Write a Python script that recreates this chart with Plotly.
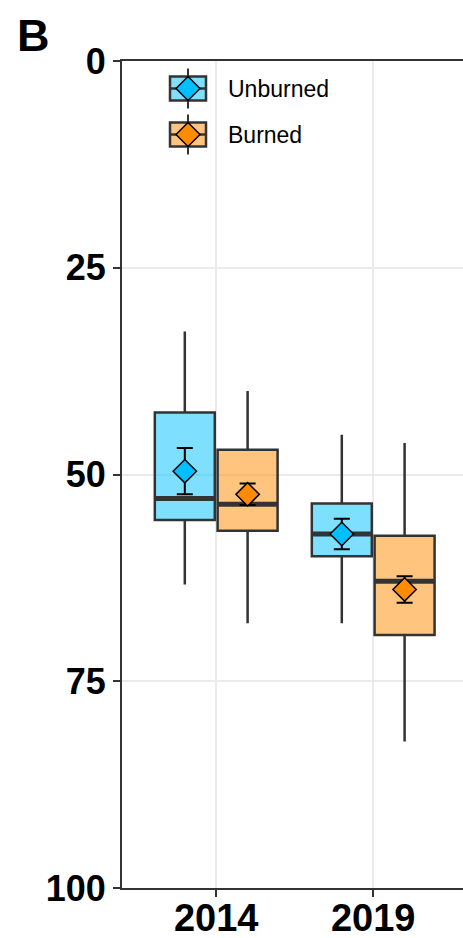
import plotly.graph_objects as go

# Depth values by survey year (box summaries, mean and standard error)
years = ["2014", "2019"]

unburned_lower = [32.7, 45.2]
unburned_q1 = [42.5, 53.5]
unburned_median = [52.9, 57.2]
unburned_q3 = [55.5, 59.9]
unburned_upper = [63.3, 68.0]
unburned_mean = [49.6, 57.2]
unburned_se = [2.8, 1.85]

burned_lower = [39.9, 46.2]
burned_q1 = [47.0, 57.4]
burned_median = [53.6, 62.9]
burned_q3 = [56.8, 69.4]
burned_upper = [68.0, 82.3]
burned_mean = [52.4, 63.9]
burned_se = [1.3, 1.6]

y_ticks = [0, 25, 50, 75, 100]

# Styling
W, H = 463, 938
ML, MT, MR, MB = 122, 61, 0, 50
FONT = "Liberation Sans, Arial, sans-serif"
EDGE = "#333333"
DODGE = 0.2
BOX_W = 0.382

groups = [
    dict(name="Unburned", fill="rgba(0,191,255,0.5)", point="#00BFFF", offset=-DODGE,
         lower=unburned_lower, q1=unburned_q1, med=unburned_median, q3=unburned_q3,
         upper=unburned_upper, mean=unburned_mean, se=unburned_se),
    dict(name="Burned", fill="rgba(255,140,0,0.5)", point="#FF8C00", offset=DODGE,
         lower=burned_lower, q1=burned_q1, med=burned_median, q3=burned_q3,
         upper=burned_upper, mean=burned_mean, se=burned_se),
]

fig = go.Figure()
idx = list(range(len(years)))

for g in groups:
    pos = [i + g["offset"] for i in idx]
    fig.add_trace(go.Box(
        x=pos, q1=g["q1"], median=g["med"], q3=g["q3"],
        lowerfence=g["lower"], upperfence=g["upper"],
        width=BOX_W, whiskerwidth=0, boxpoints=False,
        fillcolor=g["fill"], line=dict(color=EDGE, width=2.5),
        name=g["name"], showlegend=False, hoverinfo="skip",
    ))
    # thicker median bars
    for p, m in zip(pos, g["med"]):
        fig.add_trace(go.Scatter(
            x=[p - BOX_W / 2, p + BOX_W / 2], y=[m, m], mode="lines",
            line=dict(color=EDGE, width=5), showlegend=False, hoverinfo="skip",
        ))

for g in groups:
    pos = [i + g["offset"] for i in idx]
    fig.add_trace(go.Scatter(
        x=pos, y=g["mean"], mode="markers",
        marker=dict(symbol="diamond", size=18, color=g["point"],
                    line=dict(color="black", width=1.5)),
        error_y=dict(type="data", array=g["se"], color="black", thickness=2, width=8),
        showlegend=False, hoverinfo="skip",
    ))

# Legend keys drawn in pixel space, converted to paper coordinates
PW, PH = W - ML - MR, H - MT - MB


def px(x):
    return (x - ML) / PW


def py(y):
    return (H - MB - y) / PH


shapes = []
annotations = []
key_x0, key_x1 = 170, 206
key_cx = (key_x0 + key_x1) / 2
for g, cy in zip(groups, [88.5, 134.5]):
    shapes.append(dict(type="line", xref="paper", yref="paper",
                       x0=px(key_cx), x1=px(key_cx), y0=py(cy - 20), y1=py(cy + 20),
                       line=dict(color=EDGE, width=2)))
    shapes.append(dict(type="rect", xref="paper", yref="paper",
                       x0=px(key_x0), x1=px(key_x1), y0=py(cy - 12), y1=py(cy + 12),
                       fillcolor="white", line=dict(width=0)))
    shapes.append(dict(type="rect", xref="paper", yref="paper",
                       x0=px(key_x0), x1=px(key_x1), y0=py(cy - 12), y1=py(cy + 12),
                       fillcolor=g["fill"], line=dict(color=EDGE, width=2.5)))
    shapes.append(dict(type="line", xref="paper", yref="paper",
                       x0=px(key_x0), x1=px(key_x1), y0=py(cy), y1=py(cy),
                       line=dict(color=EDGE, width=2.5)))
    d = 12
    path = "M {} {} L {} {} L {} {} L {} {} Z".format(
        px(key_cx - d), py(cy), px(key_cx), py(cy - d),
        px(key_cx + d), py(cy), px(key_cx), py(cy + d))
    shapes.append(dict(type="path", xref="paper", yref="paper", path=path,
                       fillcolor=g["point"], line=dict(color="black", width=1.5)))
    annotations.append(dict(text=g["name"], xref="paper", yref="paper",
                            x=px(226), y=py(cy), xanchor="left", yanchor="middle",
                            showarrow=False, font=dict(family=FONT, size=23, color="black")))

annotations.append(dict(text="B", xref="paper", yref="paper", x=px(15), y=py(36),
                        xanchor="left", yanchor="middle", showarrow=False,
                        font=dict(family=FONT, size=45, color="black", weight="bold")))

fig.update_layout(
    width=W, height=H,
    margin=dict(l=ML, r=MR, t=MT, b=MB, pad=0, autoexpand=False),
    plot_bgcolor="white", paper_bgcolor="white",
    shapes=shapes, annotations=annotations,
    font=dict(family=FONT),
)

fig.update_xaxes(
    range=[-0.6, -0.6 + PW / 157.0],
    tickvals=idx, ticktext=years,
    showgrid=True, gridcolor="#EBEBEB", gridwidth=2,
    showline=True, linecolor=EDGE, linewidth=2, mirror=True,
    ticks="outside", ticklen=7, tickwidth=2, tickcolor=EDGE,
    ticklabelstandoff=-12,
    tickfont=dict(family=FONT, size=38, color="black", weight="bold"),
    zeroline=False, fixedrange=True, automargin=False,
)
fig.update_yaxes(
    range=[100, 0], tickvals=y_ticks,
    showgrid=True, gridcolor="#EBEBEB", gridwidth=2,
    showline=True, linecolor=EDGE, linewidth=2,
    ticks="outside", ticklen=7, tickwidth=2, tickcolor=EDGE,
    tickfont=dict(family=FONT, size=36, color="black", weight="bold"),
    zeroline=False, fixedrange=True, automargin=False,
)

fig.write_html("out.html", config=dict(displayModeBar=False))
